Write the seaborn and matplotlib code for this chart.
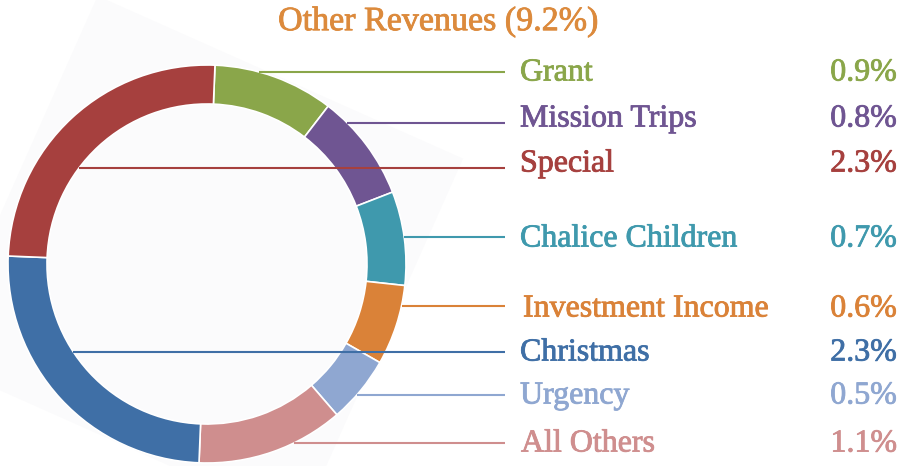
import numpy as np
import matplotlib
matplotlib.use("Agg")
import matplotlib.pyplot as plt
import matplotlib.patheffects as pe
from matplotlib.patches import Polygon
import seaborn as sns

# Daten (Reihenfolge im Ring, im Uhrzeigersinn ab oben)
categories = ["Grant", "Mission Trips", "Chalice Children", "Investment Income",
              "Urgency", "All Others", "Christmas", "Special"]
shares = [0.9, 0.8, 0.7, 0.6, 0.5, 1.1, 2.3, 2.3]
colors = ["#8aa64a", "#6f5592", "#3f99ad", "#da8238",
          "#8fa7d1", "#cf8e8e", "#3f6fa6", "#a6403e"]
title = "Other Revenues (9.2%)"
title_color = "#dc8a3c"

# Reihenfolge der Beschriftungen rechts
label_order = ["Grant", "Mission Trips", "Special", "Chalice Children",
               "Investment Income", "Christmas", "Urgency", "All Others"]

sns.set_theme(style="white")
plt.rcParams["font.family"] = ["Liberation Serif", "DejaVu Serif"]

W, H = 911, 466
fig = plt.figure(figsize=(W / 100, H / 100), dpi=100)
ax = fig.add_axes([0, 0, 1, 1])

# Layout in Pixeln (von oben gemessen)
cx, cy_top = 207, 264
R, ring = 199, 39
cy = H - cy_top
start = 87.7

# kaum sichtbares, gedrehtes Quadrat hinter dem Ring
rot = np.deg2rad(-24)
sq = np.array([[-1, -1], [1, -1], [1, 1], [-1, 1]]) * 200
rm = np.array([[np.cos(rot), -np.sin(rot)], [np.sin(rot), np.cos(rot)]])
ax.add_patch(Polygon(sq @ rm.T + [cx - 8, cy + 4], closed=True, facecolor="#fbfbfc",
                     edgecolor="none", zorder=0))

wedges, _ = ax.pie(shares, colors=colors, center=(cx, cy), radius=R,
                   startangle=start, counterclock=False,
                   wedgeprops=dict(width=ring, edgecolor="white", linewidth=1.2))
for w in wedges:
    w.set_zorder(1)

label_y = [73, 119, 164, 239, 309, 353, 396, 444]
line_y = [72, 123, 168, 237, 306, 352, 395, 443]
label_x = [520, 520, 520, 520, 523, 520, 520, 521]
line_end = 505

# Winkel der Segmente (Mitte), um Startseite der Linie zu bestimmen
cum = np.cumsum([0] + shares)
tot = sum(shares)
for name, lx, ly, lny in zip(label_order, label_x, label_y, line_y):
    i = categories.index(name)
    mid = start - (cum[i] + cum[i + 1]) / 2 / tot * 360
    dy = cy - (H - lny)
    if np.cos(np.deg2rad(mid)) > 0:
        x0 = cx + np.sqrt(max(R ** 2 - dy ** 2, 0))
    else:
        r_in = R - ring
        x0 = cx - np.sqrt(max(r_in ** 2 - dy ** 2, 0))
    ax.plot([x0, line_end], [H - lny, H - lny], color=colors[i], lw=1.5,
            solid_capstyle="butt", zorder=3)
    fx = [pe.withStroke(linewidth=0.6, foreground=colors[i])]
    ax.text(lx, H - ly, name, color=colors[i], fontsize=23,
            ha="left", va="center", path_effects=fx)
    ax.text(897, H - ly, f"{shares[i]:.1f}%", color=colors[i], fontsize=23,
            ha="right", va="center", path_effects=fx)

ax.text(438, H - 22, title, color=title_color, fontsize=24.5,
        ha="center", va="center",
        path_effects=[pe.withStroke(linewidth=0.6, foreground=title_color)])

ax.set_xlim(0, W)
ax.set_ylim(0, H)
ax.set_aspect("auto")
ax.axis("off")

fig.savefig("out.png", dpi=100, facecolor="white")
